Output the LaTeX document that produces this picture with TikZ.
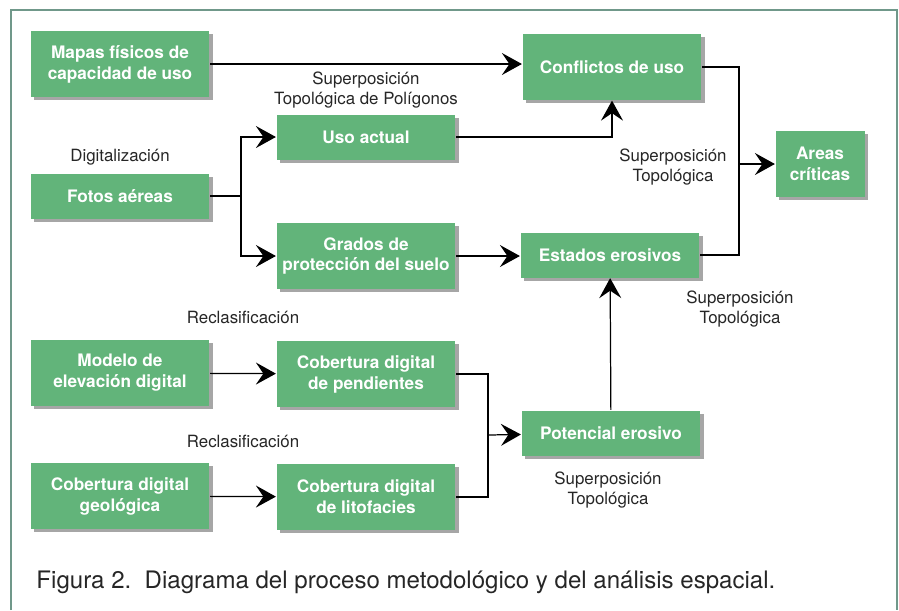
\documentclass[tikz,border=0pt]{standalone}
\usepackage{fontspec}
\setmainfont{TeX Gyre Heros}
\usetikzlibrary{arrows.meta,positioning,shadows}
\definecolor{boxgreen}{RGB}{98,180,122}
\definecolor{framegreen}{RGB}{112,152,138}

\begin{document}
\begin{tikzpicture}[x=0.02cm, y=-0.02cm, line width=0.7pt,
		every node/.style={font=\fontsize{9.6}{11.4}\selectfont, text=black!85, align=center},
		b/.style={fill=boxgreen, text=white, font=\fontsize{9.8}{11.9}\selectfont\bfseries, inner sep=0pt,
			minimum width=3.58cm, drop shadow={shadow xshift=1.8pt, shadow yshift=-1.8pt, fill=black!35, opacity=1}},
		tall/.style={minimum height=1.32cm},
		low/.style={minimum height=0.9cm},
		a/.style={-{Stealth[length=4mm, width=4.4mm, inset=1.5mm]}}]
	\useasboundingbox (0,0) rectangle (899,610);
	\draw[framegreen, line width=1pt] (11,610) -- (11,10) -- (897,10) -- (897,610);
	% boxes
	\node[b, tall] (mapas) at (120,64) {Mapas físicos de\\capacidad de uso};
	\node[b, tall] (conf) at (612,67) {Conflictos de uso};
	\node[b, low] (uso) at (366,137) {Uso actual};
	\node[b, low] (fotos) at (120,196) {Fotos aéreas};
	\node[b, tall] (grados) at (366,256) {Grados de\\protección del suelo};
	\node[b, low] (estados) at (610,255) {Estados erosivos};
	\node[b, tall, minimum width=1.78cm] (areas) at (820,164) {Areas\\críticas};
	\node[b, tall] (modelo) at (120,373) {Modelo de\\elevación digital};
	\node[b, tall] (pend) at (366,374) {Cobertura digital\\de pendientes};
	\node[b, tall] (geol) at (120,496) {Cobertura digital\\geológica};
	\node[b, tall] (lito) at (366,497) {Cobertura digital\\de litofacies};
	\node[b, low] (pot) at (611,433) {Potencial erosivo};
	% labels
	\node (l1) at (366,90) {Superposición\\Topológica de Polígonos};
	\node (l2) at (120,157) {Digitalización};
	\node (l3) at (673,167) {Superposición\\Topológica};
	\node (l4) at (740,309) {Superposición\\Topológica};
	\node (l5) at (243,317) {Reclasificación};
	\node (l6) at (243,441) {Reclasificación};
	\node (l7) at (608,490) {Superposición\\Topológica};
	\node[anchor=west, font=\fontsize{13.7}{16}\selectfont] (cap) at (30,582)
		{Figura 2.\ \ Diagrama del proceso metodológico y del análisis espacial.};
	% connectors
	\coordinate (fj) at (241,196);
	\coordinate (cj) at (739,164);
	\coordinate (pj) at (488,435);
	\draw[a] (mapas.east) -- (mapas.east -| conf.west);
	\draw[a] (uso) -| (conf);
	\draw (fotos) -- (fj);
	\foreach \t in {uso, grados} \draw[a] (fj) |- (\t);
	\draw[a] (grados) -- (grados -| estados.west);
	\draw (conf) -| (cj) |- (estados);
	\draw[a] (cj) -- (areas);
	\draw[a] (pot) -- (estados);
	\foreach \s/\t in {modelo/pend, geol/lito} \draw[a] (\s) -- (\t);
	\draw (pend) -| (pj) |- (lito);
	\draw[a] (pj) -- (pot);
\end{tikzpicture}
\end{document}
